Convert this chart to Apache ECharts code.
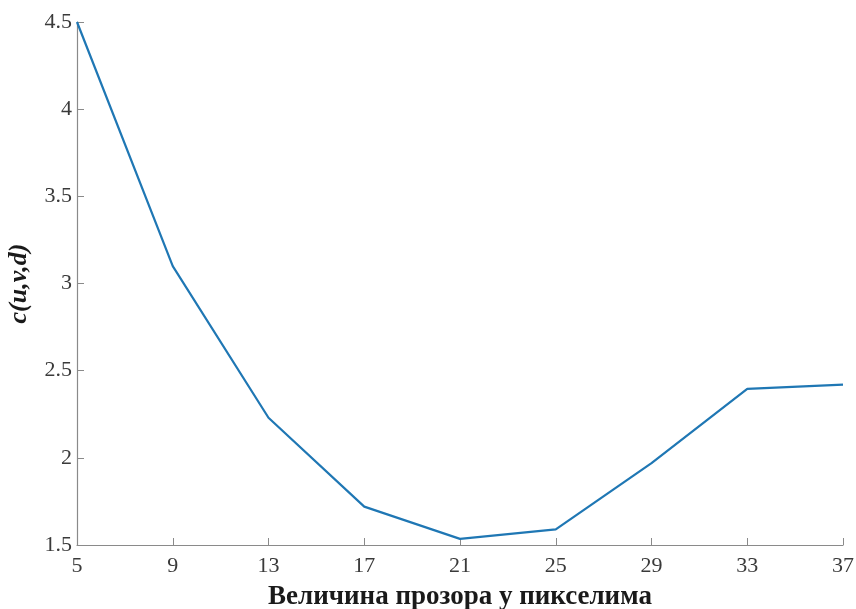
<!DOCTYPE html>
<html>
<head>
<meta charset="utf-8">
<script src="https://cdn.jsdelivr.net/npm/echarts@6/dist/echarts.min.js"></script>
<style>
html,body{margin:0;padding:0;background:#fff;}
#chart{width:856px;height:609px;}
</style>
</head>
<body>
<div id="chart"></div>
<script>
var windowSizes = ['5','9','13','17','21','25','29','33','37'];
var costValues = [4.5, 3.1, 2.23, 1.72, 1.535, 1.59, 1.97, 2.395, 2.42];
var yMin = 1.5, yMax = 4.5, yStep = 0.5;
var xTitle = 'Величина прозора у пикселима';
var yTitle = 'c(u,v,d)';

var chart = echarts.init(document.getElementById('chart'), null, {renderer:'canvas'});
var serif = '"Liberation Serif", "DejaVu Serif", serif';
chart.setOption({
  animation:false,
  backgroundColor:'#ffffff',
  grid:{left:77, right:13, top:22, bottom:64, containLabel:false, outerBoundsMode:'none'},
  xAxis:{
    type:'category',
    data:windowSizes,
    boundaryGap:false,
    name:xTitle,
    nameLocation:'middle',
    nameGap:39,
    nameTextStyle:{fontFamily:serif, fontWeight:'bold', fontSize:27, color:'#1a1a1a'},
    axisLine:{lineStyle:{color:'#8a8a8a', width:1.2}},
    axisTick:{show:true, inside:true, length:7, alignWithLabel:true, lineStyle:{color:'#8a8a8a'}},
    axisLabel:{fontFamily:serif, fontSize:22, color:'#3a3a3a', margin:10},
    splitLine:{show:false}
  },
  yAxis:{
    type:'value',
    min:yMin, max:yMax, interval:yStep,
    name:yTitle,
    nameLocation:'middle',
    nameGap:45,
    nameRotate:90,
    nameTextStyle:{fontFamily:serif, fontWeight:'bold', fontStyle:'italic', fontSize:26, color:'#1a1a1a'},
    axisLine:{show:true, lineStyle:{color:'#8a8a8a', width:1.2}},
    axisTick:{show:true, inside:true, length:7, lineStyle:{color:'#8a8a8a'}},
    axisLabel:{fontFamily:serif, fontSize:22, color:'#3a3a3a', margin:5},
    splitLine:{show:false}
  },
  series:[{
    type:'line',
    data:costValues,
    showSymbol:false,
    symbol:'none',
    lineStyle:{color:'#1f77b4', width:2.2},
    clip:false
  }]
});
</script>
</body>
</html>
